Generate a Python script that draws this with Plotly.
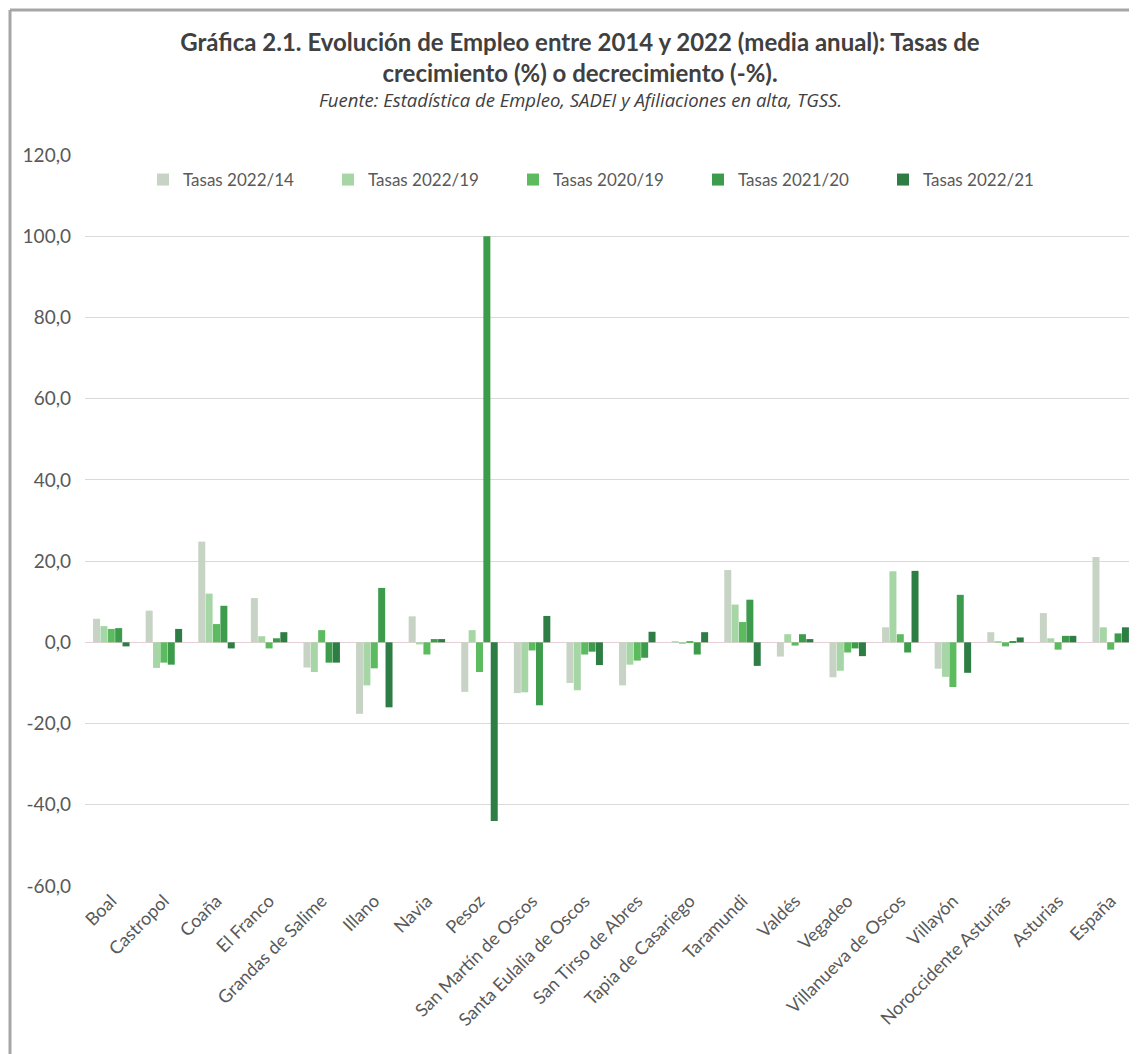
import plotly.graph_objects as go

categories = ["Boal", "Castropol", "Coaña", "El Franco", "Grandas de Salime", "Illano", "Navia",
              "Pesoz", "San Martín de Oscos", "Santa Eulalia de Oscos", "San Tirso de Abres",
              "Tapia de Casariego", "Taramundi", "Valdés", "Vegadeo", "Villanueva de Oscos",
              "Villayón", "Noroccidente Asturias", "Asturias", "España"]

tasas_2022_14 = [5.8, 7.8, 24.8, 10.9, -6.2, -17.6, 6.4, -12.2, -12.5, -10.0, -10.6, 0.3, 17.8, -3.5, -8.6, 3.7, -6.5, 2.5, 7.2, 21.0]
tasas_2022_19 = [4.0, -6.3, 12.0, 1.5, -7.3, -10.6, -0.5, 3.0, -12.3, -11.8, -5.5, -0.3, 9.3, 2.0, -7.0, 17.5, -8.5, 0.2, 1.0, 3.7]
tasas_2020_19 = [3.3, -5.0, 4.5, -1.5, 3.0, -6.4, -3.0, -7.3, -2.0, -3.0, -4.5, 0.2, 5.0, -0.8, -2.5, 2.0, -11.0, -1.0, -1.8, -1.8]
tasas_2021_20 = [3.5, -5.5, 9.0, 1.0, -5.0, 13.4, 0.8, 100.0, -15.5, -2.3, -3.8, -3.0, 10.5, 2.0, -1.5, -2.5, 11.7, 0.3, 1.6, 2.2]
tasas_2022_21 = [-1.0, 3.3, -1.5, 2.5, -5.0, -16.0, 0.8, -44.0, 6.5, -5.6, 2.6, 2.5, -5.8, 0.8, -3.4, 17.6, -7.5, 1.2, 1.6, 3.7]

series = [
    ("Tasas 2022/14", tasas_2022_14, "#c7d3c4"),
    ("Tasas 2022/19", tasas_2022_19, "#a6d6a6"),
    ("Tasas 2020/19", tasas_2020_19, "#5cbb5f"),
    ("Tasas 2021/20", tasas_2021_20, "#3c9c4b"),
    ("Tasas 2022/21", tasas_2022_21, "#2e7d45"),
]

y_ticks = [-60, -40, -20, 0, 20, 40, 60, 80, 100, 120]
y_tick_text = [f"{v:.1f}".replace(".", ",") for v in y_ticks]

fig = go.Figure()
for name, vals, col in series:
    fig.add_trace(go.Bar(x=categories, y=vals, name=name, marker=dict(color=col, line=dict(width=0))))

FONT = "Lato, Open Sans, sans-serif"
# page body has an 8px margin: compensate so the screen matches the reference
OFF = 8
ML, MT, MR = 85 - OFF, 155 - OFF, OFF
MB = 1054 - (886 - OFF)
PH = 1054.0 - MT - MB
PW = 1137.0 - ML - MR


def py(screen_y):
    return 1.0 - (screen_y - OFF - MT) / PH


def px(screen_x):
    return (screen_x - OFF - ML) / PW


fig.update_layout(
    width=1137, height=1054,
    paper_bgcolor="white", plot_bgcolor="white",
    margin=dict(l=ML, r=MR, t=MT, b=MB, autoexpand=False),
    barmode="group", bargap=0.3, bargroupgap=0.05,
    separators=",.",
    font=dict(family=FONT, color="#595959"),
    title=dict(
        text="<b>Gráfica 2.1. Evolución de Empleo entre 2014 y 2022 (media anual): Tasas de<br>crecimiento (%) o decrecimiento (-%).</b>",
        x=(580 - OFF) / 1137, xanchor="center", y=1 - 43 / 1054, yanchor="top",
        font=dict(size=24, color="#404040", family=FONT),
    ),
    legend=dict(
        orientation="h", x=px(143), xanchor="left", y=py(180), yanchor="middle",
        font=dict(size=17, color="#595959"), bgcolor="rgba(0,0,0,0)",
        itemwidth=30, traceorder="normal", entrywidth=140, entrywidthmode="pixels",
    ),
    xaxis=dict(
        tickangle=-45, tickfont=dict(size=18, color="#595959"),
        showgrid=False, showline=False, ticks="", automargin=False,
    ),
    yaxis=dict(
        range=[-60, 120], tickvals=y_ticks, ticktext=y_tick_text,
        tickfont=dict(size=19, color="#595959"),
        showgrid=True, gridcolor="#d9d9d9", gridwidth=1,
        zeroline=True, zerolinecolor="#e6cfd6", zerolinewidth=1,
        showline=False, ticks="", automargin=False, ticklabelstandoff=13,
    ),
    annotations=[
        dict(text="<i>Fuente: Estadística de Empleo, SADEI y Afiliaciones en alta, TGSS.</i>",
             xref="paper", yref="paper", x=px(580), y=py(100),
             xanchor="center", yanchor="middle", showarrow=False,
             font=dict(size=18.5, color="#404040", family="Open Sans, sans-serif")),
    ],
    shapes=[
        dict(type="line", xref="paper", yref="paper",
             x0=px(10), x1=px(10), y0=py(1060), y1=py(10),
             line=dict(color="#a6a6a6", width=3)),
        dict(type="line", xref="paper", yref="paper",
             x0=px(10), x1=px(1145), y0=py(10), y1=py(10),
             line=dict(color="#a6a6a6", width=3)),
    ],
)

fig.write_html("out.html")
